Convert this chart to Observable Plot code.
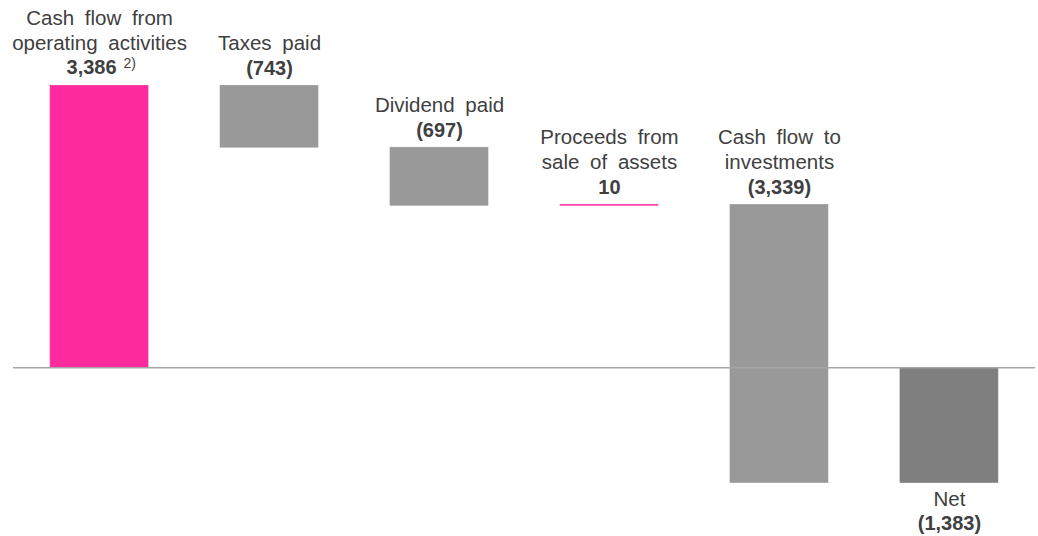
<!DOCTYPE html>
<html><head><meta charset="utf-8">
<script src="https://cdn.jsdelivr.net/npm/d3@7"></script>
<script src="https://cdn.jsdelivr.net/npm/@observablehq/plot@0.6"></script>
<style>
html,body{margin:0;padding:0;background:#fff;}
svg{display:block;}
svg text{word-spacing:5px;}
</style></head><body><div id="chart"></div>
<script>
const categories = ["Cash flow from\noperating activities","Taxes paid","Dividend paid","Proceeds from\nsale of assets","Cash flow to\ninvestments","Net"];
const values = [3386,-743,-697,10,-3339,-1383];
const valueLabels = ["3,386","(743)","(697)","10","(3,339)","(1,383)"];
const footnotes = ["2)","","","","",""];
const isTotal = [false,false,false,false,false,true];

let run = 0;
const data = categories.map((c,i)=>{
  let start, end;
  if (isTotal[i]) { start = 0; end = values[i]; }
  else { start = run; end = run + values[i]; run = end; }
  const color = isTotal[i] ? "#7f7f7f" : values[i] >= 0 ? "#ff2a9e" : "#999999";
  return {cat: c, start, end, top: Math.max(start,end), bottom: Math.min(start,end), label: valueLabels[i], foot: footnotes[i], total: isTotal[i], color};
});
const above = data.filter(d => !d.total);
const aboveNoFoot = above.filter(d => !d.foot);
const withFoot = above.filter(d => d.foot);
const below = data.filter(d => d.total);
const txt = "#404040";

const chart = Plot.plot({
  width: 1038, height: 536, marginTop: 0, marginBottom: 0, marginLeft: 13, marginRight: 3,
  x: {domain: categories, paddingInner: 0.4235, paddingOuter: 0.218, round: false, axis: null},
  y: {domain: [-2025, 4410], axis: null},
  style: {fontFamily: "'Liberation Sans', Arial, sans-serif", color: txt, background: "#fff"},
  marks: [
    Plot.barY(data, {x: "cat", y1: "start", y2: "end", fill: "color", stroke: "color", strokeWidth: 0.6}),
    Plot.ruleY([0], {stroke: "#a6a6a6", strokeWidth: 1.5}),
    Plot.text(above, {x: "cat", y: "top", text: "cat", lineAnchor: "bottom", dy: -36, fontSize: 20.5, lineHeight: 1.22, fill: txt}),
    Plot.text(aboveNoFoot, {x: "cat", y: "top", text: "label", lineAnchor: "bottom", dy: -11, fontSize: 20, fontWeight: "bold", fill: txt}),
    Plot.text(withFoot, {x: "cat", y: "top", text: "label", lineAnchor: "bottom", dx: -8, dy: -12, fontSize: 20, fontWeight: "bold", fill: txt}),
    Plot.text(withFoot, {x: "cat", y: "top", text: "foot", lineAnchor: "bottom", textAnchor: "start", dx: 24, dy: -18, fontSize: 14, fill: txt}),
    Plot.text(below, {x: "cat", y: "bottom", text: "cat", lineAnchor: "top", dy: 8, fontSize: 20.5, fill: txt}),
    Plot.text(below, {x: "cat", y: "bottom", text: "label", lineAnchor: "top", dy: 33, fontSize: 20, fontWeight: "bold", fill: txt})
  ]
});
document.getElementById("chart").appendChild(chart);
</script></body></html>
